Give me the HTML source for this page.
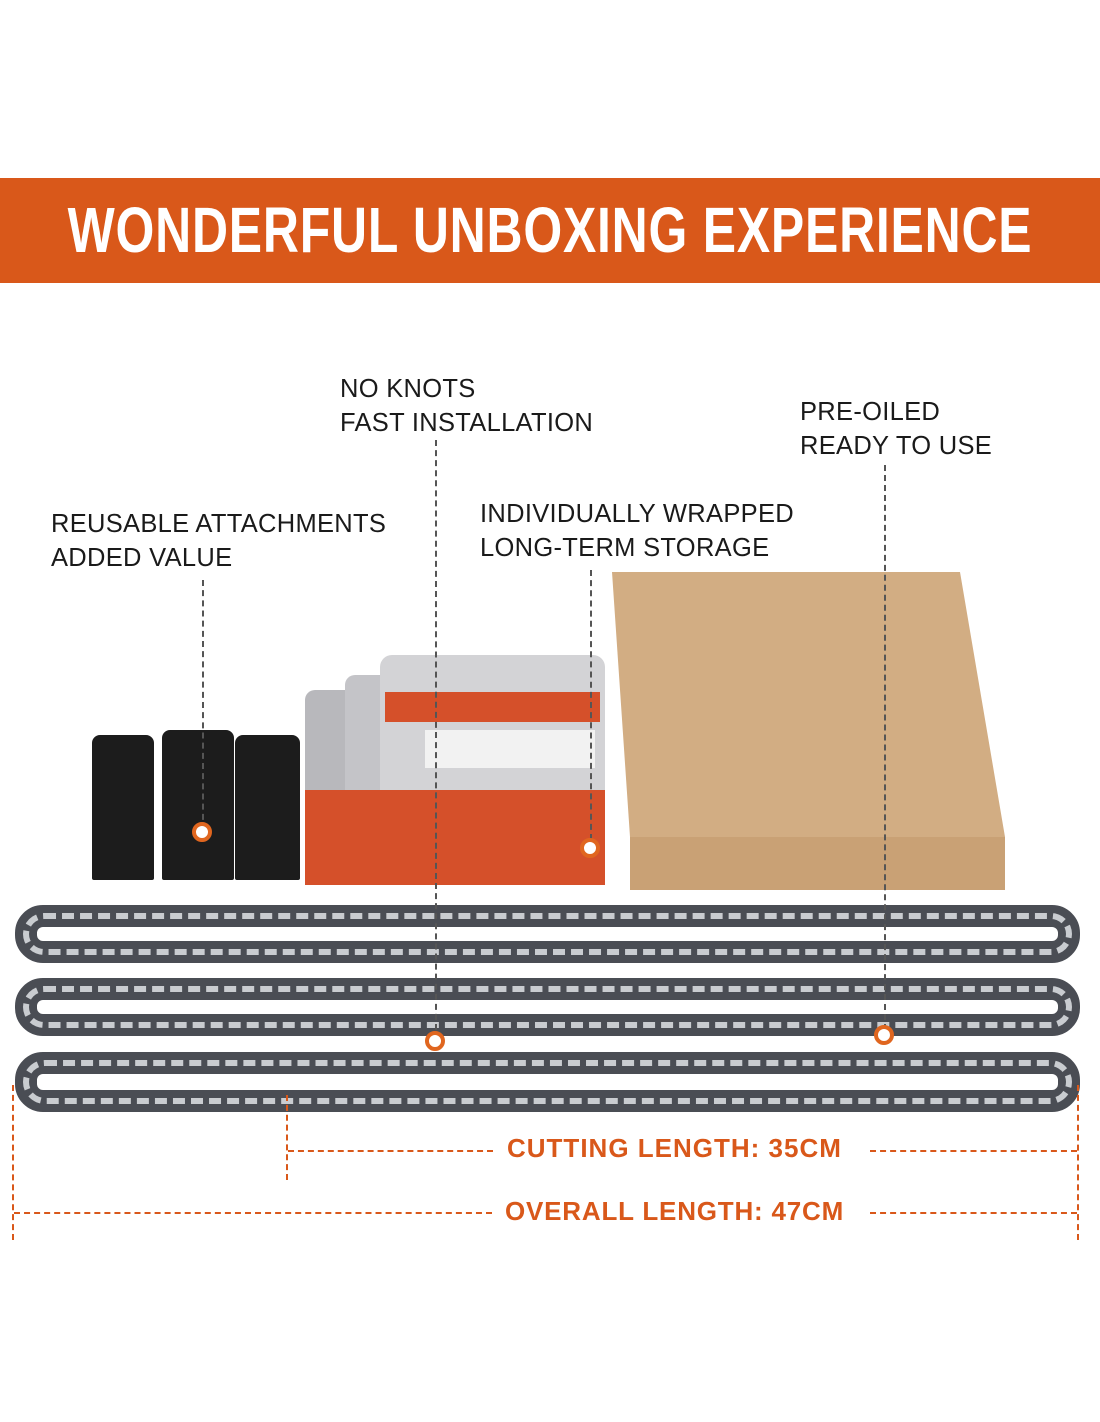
<!DOCTYPE html>
<html><head><meta charset="utf-8"><style>
body{margin:0;width:1100px;height:1422px;background:#fff;position:relative;overflow:hidden;font-family:"Liberation Sans",sans-serif}
.a{position:absolute}
.lbl{position:absolute;font-size:25.5px;color:#1a1a1a;line-height:34px;letter-spacing:0.3px;white-space:nowrap}
.vd{position:absolute;border-left:2px dashed #555;width:0}
.dot{position:absolute;width:12px;height:12px;border-radius:50%;background:#fff;border:4px solid #e0661f}
.chain{position:absolute;left:15px;width:1065px;border-radius:28px;border:22px solid #4a4d54;background:transparent;box-sizing:border-box}
.chain:after{content:"";position:absolute;left:-14px;right:-14px;top:-14px;bottom:-14px;border-radius:30px;border:6px dashed #c9ccd0}
</style></head><body>
<div class="a" style="left:0;top:178px;width:1100px;height:105px;background:#d9581a"></div>
<div class="a" style="left:-200px;top:190px;width:1500px;text-align:center;color:#fff;font-weight:bold;font-size:64px;line-height:80px;letter-spacing:1px;white-space:nowrap;transform:scaleX(0.78)">WONDERFUL UNBOXING EXPERIENCE</div>

<div class="lbl" style="left:340px;top:372px">NO KNOTS<br>FAST INSTALLATION</div>
<div class="lbl" style="left:800px;top:395px">PRE-OILED<br>READY TO USE</div>
<div class="lbl" style="left:51px;top:507px">REUSABLE ATTACHMENTS<br>ADDED VALUE</div>
<div class="lbl" style="left:480px;top:497px">INDIVIDUALLY WRAPPED<br>LONG-TERM STORAGE</div>

<!-- box -->
<div class="a" style="left:612px;top:572px;width:395px;height:318px;background:#d2ad83;clip-path:polygon(0 0,348px 0,393px 265px,393px 318px,18px 318px,18px 265px)"></div>
<div class="a" style="left:630px;top:837px;width:375px;height:53px;background:#c9a175"></div>

<!-- straps -->
<div class="a" style="left:92px;top:735px;width:62px;height:145px;background:#1c1c1c;border-radius:8px 8px 2px 2px"></div>
<div class="a" style="left:162px;top:730px;width:72px;height:150px;background:#1c1c1c;border-radius:8px 8px 2px 2px"></div>
<div class="a" style="left:235px;top:735px;width:65px;height:145px;background:#1c1c1c;border-radius:8px 8px 2px 2px"></div>

<!-- bags -->
<div class="a" style="left:305px;top:690px;width:120px;height:195px;background:#b8b8bc;border-radius:10px"></div>
<div class="a" style="left:345px;top:675px;width:140px;height:210px;background:#c4c4c8;border-radius:10px"></div>
<div class="a" style="left:380px;top:655px;width:225px;height:230px;background:#d3d3d6;border-radius:12px"></div>
<div class="a" style="left:305px;top:790px;width:300px;height:95px;background:#d5502a"></div>
<div class="a" style="left:385px;top:692px;width:215px;height:30px;background:#d5502a"></div>
<div class="a" style="left:425px;top:730px;width:170px;height:38px;background:#f2f2f2"></div>

<!-- chains -->
<div class="chain" style="top:905px;height:58px"></div>
<div class="chain" style="top:978px;height:58px"></div>
<div class="chain" style="top:1052px;height:60px"></div>

<div class="vd" style="left:202px;top:580px;height:250px"></div>
<div class="vd" style="left:435px;top:440px;height:590px"></div>
<div class="vd" style="left:590px;top:570px;height:270px"></div>
<div class="vd" style="left:884px;top:465px;height:565px"></div>
<div class="dot" style="left:192px;top:822px"></div>
<div class="dot" style="left:580px;top:838px"></div>
<div class="dot" style="left:425px;top:1031px"></div>
<div class="dot" style="left:874px;top:1025px"></div>

<!-- dimension lines -->
<div class="a" style="left:286px;top:1095px;height:85px;border-left:2px dashed #d9581a"></div>
<div class="a" style="left:12px;top:1085px;height:155px;border-left:2px dashed #d9581a"></div>
<div class="a" style="left:1077px;top:1085px;height:155px;border-left:2px dashed #d9581a"></div>
<div class="a" style="left:288px;top:1150px;width:205px;border-top:2px dashed #d9581a"></div>
<div class="a" style="left:870px;top:1150px;width:207px;border-top:2px dashed #d9581a"></div>
<div class="a" style="left:14px;top:1212px;width:478px;border-top:2px dashed #d9581a"></div>
<div class="a" style="left:870px;top:1212px;width:207px;border-top:2px dashed #d9581a"></div>
<div class="a" style="left:507px;top:1133px;color:#d9581a;font-weight:bold;font-size:26px;letter-spacing:1px;white-space:nowrap">CUTTING LENGTH: 35CM</div>
<div class="a" style="left:505px;top:1196px;color:#d9581a;font-weight:bold;font-size:26px;letter-spacing:0.8px;white-space:nowrap">OVERALL LENGTH: 47CM</div>
</body></html>
